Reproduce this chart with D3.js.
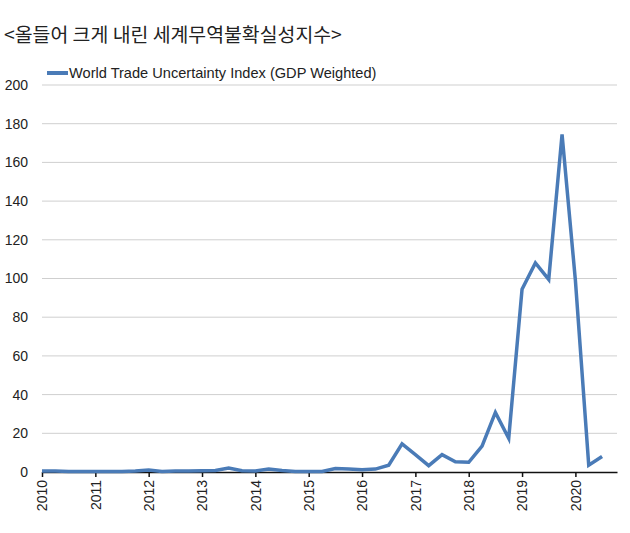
<!DOCTYPE html>
<html><head><meta charset="utf-8">
<script src="https://cdn.jsdelivr.net/npm/d3@7"></script>
<style>body{margin:0;background:#fff}svg{display:block}</style>
</head><body>
<svg id="c" width="630" height="533"></svg>
<script>
const title = "<올들어 크게 내린 세계무역불확실성지수>";
const seriesName = "World Trade Uncertainty Index (GDP Weighted)";
const years = [2010,2011,2012,2013,2014,2015,2016,2017,2018,2019,2020];
const yTicks = [0,20,40,60,80,100,120,140,160,180,200];
// quarterly, 2010Q1 .. 2020Q3
const quarters = ["2010Q1","2010Q2","2010Q3","2010Q4","2011Q1","2011Q2","2011Q3","2011Q4",
 "2012Q1","2012Q2","2012Q3","2012Q4","2013Q1","2013Q2","2013Q3","2013Q4",
 "2014Q1","2014Q2","2014Q3","2014Q4","2015Q1","2015Q2","2015Q3","2015Q4",
 "2016Q1","2016Q2","2016Q3","2016Q4","2017Q1","2017Q2","2017Q3","2017Q4",
 "2018Q1","2018Q2","2018Q3","2018Q4","2019Q1","2019Q2","2019Q3","2019Q4",
 "2020Q1","2020Q2","2020Q3"];
const values = [0.5,0.5,0.3,0.2, 0.2,0.2,0.2,0.5, 1.0,0.3,0.5,0.5, 0.6,0.8,2.0,0.6,
 0.5,1.5,0.8,0.3, 0.2,0.3,1.8,1.5, 1.2,1.5,3.5,14.5, 9.0,3.3,9.0,5.3,
 5.0,13.4,30.8,17.4, 94.5,108,99.5,174.5, 99,3.5,8.0];

const svg = d3.select("#c");
const x = d3.scaleLinear().domain([2010, 2020.78]).range([42, 617]);
const y = d3.scaleLinear().domain([0, 200]).range([472, 85]);
const toT = q => +q.slice(0,4) + (+q.slice(5)-1)/4;
const data = quarters.map((q,i)=>({t:toT(q), v:values[i]}));

svg.append("text").attr("x",4).attr("y",42)
  .attr("font-family","'Noto Sans CJK KR', sans-serif").attr("font-size",19.4)
  .attr("fill","#222").text(title);

// grid
svg.append("g").selectAll("line").data(yTicks.filter(d=>d>0)).join("line")
  .attr("x1",42).attr("x2",617).attr("y1",d=>y(d)).attr("y2",d=>y(d))
  .attr("stroke","#cfcfcf").attr("stroke-width",1);

// y labels
const yAxis = d3.axisLeft(y).tickValues(yTicks).tickSize(0).tickPadding(0);
const gy = svg.append("g").attr("transform","translate(28,0)").call(yAxis);
gy.select(".domain").remove();
gy.selectAll("text").attr("font-family","'Liberation Sans', Arial, sans-serif")
  .attr("font-size",14).attr("fill","#222");

// x axis
const xAxis = d3.axisBottom(x).tickValues(years).tickFormat(d3.format("d")).tickSize(5).tickSizeOuter(0);
const gx = svg.append("g").attr("transform","translate(0,472)").call(xAxis);
gx.select(".domain").attr("stroke","#111").attr("stroke-width",1.5);
gx.selectAll(".tick line").attr("stroke","#111").attr("stroke-width",1.5);
gx.selectAll("text").attr("font-family","'Liberation Sans', Arial, sans-serif")
  .attr("font-size",14).attr("fill","#222")
  .attr("transform","rotate(-90)").attr("text-anchor","end")
  .attr("x",-8).attr("y",0).attr("dy","0.35em");

// line
svg.append("path").datum(data)
  .attr("d", d3.line().x(d=>x(d.t)).y(d=>y(d.v)))
  .attr("fill","none").attr("stroke","#4a7bb7").attr("stroke-width",3.5)
  .attr("stroke-linejoin","miter");

// legend
svg.append("line").attr("x1",47).attr("x2",68).attr("y1",73).attr("y2",73)
  .attr("stroke","#4a7bb7").attr("stroke-width",4);
svg.append("text").attr("x",69).attr("y",78)
  .attr("font-family","'Liberation Sans', Arial, sans-serif").attr("font-size",14.6)
  .attr("fill","#222").text(seriesName);
</script>
</body></html>
